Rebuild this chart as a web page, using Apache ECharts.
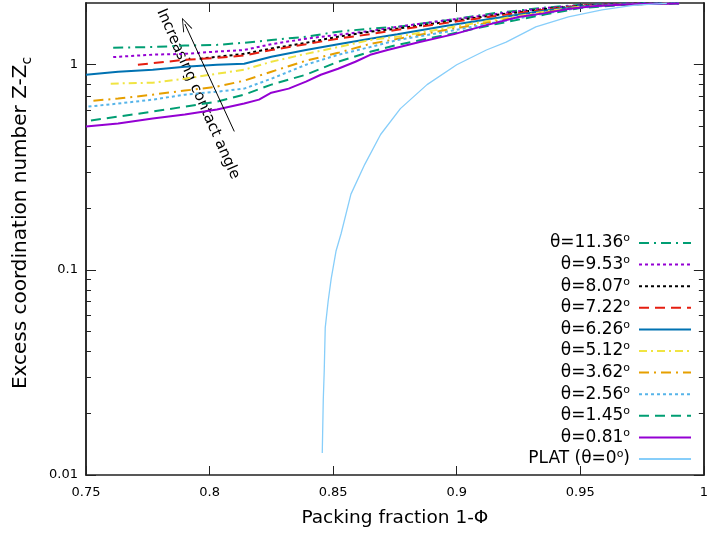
<!DOCTYPE html>
<html>
<head>
<meta charset="utf-8">
<title>Excess coordination number vs packing fraction</title>
<script src="https://cdn.jsdelivr.net/npm/echarts@6.0.0/dist/echarts.min.js"></script>
<style>
  html, body { margin: 0; background: #fff; }
  #chart { width: 711px; height: 533px; }
</style>
</head>
<body>
<div id="chart"></div>
<script>
// contact angles (legend order, top to bottom)
const angles = ['11.36', '9.53', '8.07', '7.22', '6.26', '5.12', '3.62', '2.56', '1.45', '0.81'];

// [packing fraction, Z - Zc]
const t1136 = [[0.761,1.21],[0.777,1.22],[0.79,1.24],[0.803,1.25],[0.814,1.28],[0.825,1.32],[0.839,1.37],[0.852,1.45],[0.865,1.50],[0.876,1.53],[0.896,1.65],[0.916,1.79],[0.936,1.90],[0.95,1.96],[0.97,1.99],[0.99,2.0]];
const t953  = [[0.761,1.09],[0.777,1.12],[0.79,1.13],[0.803,1.16],[0.814,1.18],[0.825,1.26],[0.839,1.34],[0.852,1.40],[0.865,1.46],[0.876,1.53],[0.896,1.65],[0.916,1.77],[0.936,1.89],[0.95,1.95],[0.97,1.99],[0.99,2.0]];
const t807  = [[0.796,1.07],[0.814,1.13],[0.825,1.20],[0.839,1.28],[0.852,1.37],[0.865,1.45],[0.876,1.50],[0.896,1.62],[0.916,1.75],[0.936,1.87],[0.95,1.94],[0.97,1.98],[0.99,2.0]];
const t722  = [[0.771,1.0],[0.79,1.057],[0.803,1.08],[0.814,1.11],[0.825,1.18],[0.839,1.26],[0.852,1.34],[0.865,1.41],[0.876,1.48],[0.896,1.60],[0.916,1.73],[0.936,1.86],[0.95,1.94],[0.97,1.98],[0.99,2.0]];
const t626  = [[0.75,0.894],[0.763,0.925],[0.777,0.946],[0.79,0.978],[0.803,1.0],[0.814,1.011],[0.825,1.094],[0.839,1.18],[0.852,1.26],[0.865,1.34],[0.876,1.41],[0.896,1.55],[0.916,1.69],[0.936,1.84],[0.95,1.93],[0.97,1.98],[0.99,2.0]];
const t512  = [[0.76,0.809],[0.777,0.818],[0.79,0.855],[0.803,0.904],[0.814,0.946],[0.825,1.034],[0.839,1.13],[0.852,1.22],[0.865,1.32],[0.876,1.37],[0.896,1.51],[0.916,1.66],[0.936,1.82],[0.95,1.92],[0.97,1.97],[0.99,1.99]];
const t362  = [[0.753,0.668],[0.763,0.684],[0.777,0.715],[0.79,0.748],[0.803,0.782],[0.814,0.836],[0.825,0.925],[0.839,1.046],[0.852,1.143],[0.865,1.264],[0.876,1.337],[0.896,1.48],[0.916,1.63],[0.936,1.80],[0.95,1.91],[0.97,1.97],[0.99,1.99]];
const t256  = [[0.751,0.625],[0.763,0.647],[0.777,0.676],[0.79,0.715],[0.803,0.739],[0.814,0.765],[0.825,0.855],[0.839,1.0],[0.852,1.118],[0.865,1.22],[0.876,1.32],[0.896,1.45],[0.916,1.61],[0.936,1.78],[0.95,1.90],[0.97,1.97],[0.99,1.99]];
const t145  = [[0.752,0.535],[0.763,0.559],[0.777,0.591],[0.79,0.625],[0.803,0.661],[0.814,0.715],[0.825,0.80],[0.839,0.894],[0.852,1.034],[0.865,1.156],[0.876,1.25],[0.896,1.40],[0.916,1.58],[0.936,1.76],[0.95,1.89],[0.97,1.97],[0.99,1.99]];
const t081  = [[0.75,0.50],[0.763,0.517],[0.777,0.547],[0.79,0.572],[0.803,0.605],[0.814,0.647],[0.82,0.676],[0.825,0.731],[0.832,0.765],[0.839,0.827],[0.845,0.894],[0.852,0.956],[0.859,1.034],[0.865,1.118],[0.872,1.18],[0.885,1.29],[0.899,1.41],[0.912,1.56],[0.925,1.71],[0.935,1.78],[0.945,1.87],[0.955,1.93],[0.97,1.97],[0.99,1.99]];
const plat  = [[0.8456,0.0128],[0.846,0.0231],[0.8464,0.0324],[0.8468,0.0523],[0.848,0.0707],[0.8492,0.0904],[0.8512,0.124],[0.8532,0.150],[0.8572,0.234],[0.8628,0.327],[0.8692,0.457],[0.8772,0.611],[0.888,0.80],[0.90,1.0],[0.912,1.18],[0.92,1.29],[0.932,1.53],[0.9452,1.71],[0.9588,1.85],[0.972,1.955],[0.985,1.99]];

const curves = [t1136, t953, t807, t722, t626, t512, t362, t256, t145, t081];

// axis ticks
const xTicks = [0.75, 0.8, 0.85, 0.9, 0.95, 1];
const yMajor = [0.01, 0.1, 1];
const yMinor = [0.02,0.03,0.04,0.05,0.06,0.07,0.08,0.09,0.2,0.3,0.4,0.5,0.6,0.7,0.8,0.9];

// annotation arrow (tail -> head) in data space
const arrowTail = [0.81, 0.473];
const arrowHead = [0.79, 1.58];

// styles
const colors = ['#009e73','#9400d3','#000000','#e51e10','#0072b2','#f0e442','#e69f00','#56b4e9','#009e73','#9400d3'];
const dashes = [[10,5,2,5],[3,3],[3,3],[10,6],'solid',[8,4,2,4],[10,5,2,5],[3,3],[10,6],'solid'];

const chart = echarts.init(document.getElementById('chart'));
const FONT = 'DejaVu Sans';

const names = angles.map(a => 'θ=' + a + '°');
const platName = 'PLAT (θ=0°)';

const series = curves.map((d, i) => ({
  name: names[i],
  type: 'line',
  data: d,
  showSymbol: false,
  symbol: 'none',
  lineStyle: { color: colors[i], width: 2, type: dashes[i] },
  itemStyle: { color: colors[i] },
  z: 3
}));
series.push({
  name: platName,
  type: 'line',
  data: plat,
  symbol: 'none',
  lineStyle: { color: '#87cefa', width: 1.3 },
  itemStyle: { color: '#87cefa' },
  markLine: {
    silent: true,
    symbol: ['none', 'path://M5,0 L10,12 L9,12 L5,2 L1,12 L0,12 Z'],
    symbolSize: [10, 14],
    label: { show: false },
    lineStyle: { color: '#000', width: 1, type: 'solid' },
    itemStyle: { color: '#000' },
    data: [[{ coord: arrowTail }, { coord: arrowHead }]]
  },
  z: 3
});

const axisLine = { show: true, onZero: false, lineStyle: { color: '#222', width: 1.5 } };

function yAxis(pos, ticks, len, labels) {
  return {
    type: 'log', position: pos, min: 0.01, max: 2,
    axisLine: axisLine,
    splitLine: { show: false },
    axisTick: { show: true, inside: true, length: len, customValues: ticks, lineStyle: { color: '#222', width: 1 } },
    axisLabel: labels
      ? { show: true, customValues: yMajor, margin: 8, fontSize: 13, color: '#000', fontFamily: FONT }
      : { show: false }
  };
}

const option = {
  animation: false,
  backgroundColor: '#fff',
  textStyle: { fontFamily: FONT },
  grid: { left: 85, right: 1, top: 3, bottom: 58 },
  xAxis: [{
    type: 'value', position: 'bottom', min: 0.75, max: 1, interval: 0.05,
    name: 'Packing fraction 1-Φ', nameLocation: 'middle', nameGap: 34,
    nameTextStyle: { fontSize: 18.5, color: '#000', fontFamily: FONT },
    axisLine: axisLine, splitLine: { show: false },
    axisTick: { inside: true, length: 9, lineStyle: { color: '#222' } },
    axisLabel: { margin: 11, fontSize: 13, color: '#000', fontFamily: FONT,
      customValues: xTicks }
  }, {
    type: 'value', position: 'top', min: 0.75, max: 1, interval: 0.05,
    axisLine: axisLine, splitLine: { show: false },
    axisTick: { inside: true, length: 9, lineStyle: { color: '#222' } },
    axisLabel: { show: false }
  }],
  yAxis: [
    Object.assign(yAxis('left', yMajor, 10, true), {
      name: 'Excess coordination number Z-Z{sub|c}',
      nameLocation: 'middle', nameGap: 52,
      nameTextStyle: { fontSize: 20, color: '#000', fontFamily: FONT, lineHeight: 26,
        padding: [0, 0, 0, 32],
        rich: { sub: { fontSize: 14, lineHeight: 14, verticalAlign: 'bottom', color: '#000', fontFamily: FONT } } }
    }),
    yAxis('left', yMinor, 5, false),
    yAxis('right', yMajor, 10, false),
    yAxis('right', yMinor, 5, false)
  ],
  legend: {
    data: names.concat([platName]),
    orient: 'vertical', align: 'right',
    right: 14, top: 228,
    itemWidth: 52, itemHeight: 10, itemGap: 3.1,
    itemStyle: { opacity: 0 },
    textStyle: {
      color: '#000', fontFamily: FONT, fontSize: 17, padding: [0, 4, 0, 0],
      rich: {
        t: { fontSize: 17, lineHeight: 20, color: '#000', fontFamily: FONT },
        s: { fontSize: 11, lineHeight: 11, verticalAlign: 'top', color: '#000', fontFamily: FONT }
      }
    },
    formatter: function (name) {
      const parts = name.split('°');
      return '{t|' + parts[0] + '}{s|o}' + (parts[1] ? '{t|' + parts[1] + '}' : '');
    }
  },
  graphic: [{
    type: 'text', x: 198, y: 94, rotation: -66.1 * Math.PI / 180,
    style: { text: 'Increasing contact angle', font: '15px "DejaVu Sans"', fill: '#000',
      align: 'center', verticalAlign: 'middle' }
  }],
  series: series
};

chart.setOption(option);
window.onresize = function () { chart.resize(); };
</script>
</body>
</html>
